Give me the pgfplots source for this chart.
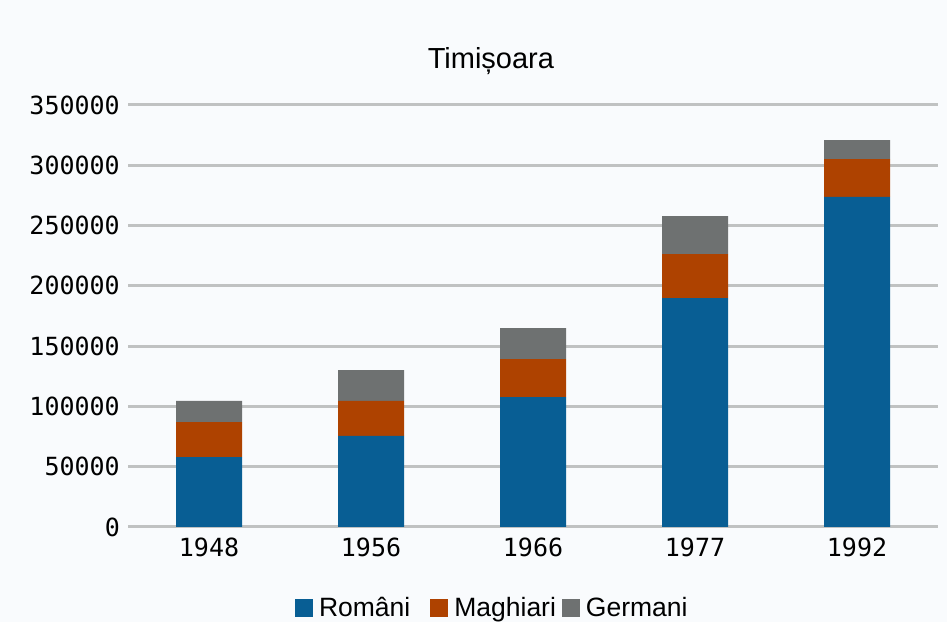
\documentclass[border=0pt]{standalone}
\usepackage{pgfplots}
\pgfplotsset{compat=1.18}
\usepackage{fontspec}
\setmainfont{Liberation Sans}
\newfontfamily\tickfont{DejaVu Sans Mono}
\definecolor{bg}{RGB}{249,251,253}
\definecolor{cro}{RGB}{8,94,148}
\definecolor{cma}{RGB}{174,66,0}
\definecolor{cge}{RGB}{110,113,113}
\definecolor{grid}{RGB}{192,194,194}
\begin{document}
\begin{tikzpicture}[x=1bp,y=1bp]
\path[fill=bg,use as bounding box] (0,0) rectangle (947,622);
\begin{axis}[
  at={(128bp,95bp)}, anchor=south west,
  scale only axis, width=810bp, height=422bp,
  ybar stacked, bar width=66bp,
  xmin=-0.5, xmax=4.5, ymin=0, ymax=350000,
  xtick=data, xticklabels={1948,1956,1966,1977,1992},
  ytick={0,50000,...,350000},
  scaled y ticks=false,
  yticklabel={\pgfmathprintnumber[fixed,1000 sep={}]{\tick}},
  /pgf/number format/assume math mode=true,
  axis line style={draw=none},
  major tick length=0pt,
  ymajorgrids, major grid style={color=grid, line width=3bp},
  tick label style={font=\tickfont\fontsize{25bp}{29bp}\selectfont, inner sep=0pt},
  yticklabel style={xshift=-8bp, anchor=east},
  xticklabel style={yshift=-11bp, anchor=north},
  title={Timișoara},
  title style={at={(0.448,1)}, anchor=center, yshift=38bp, font=\fontsize{29bp}{33bp}\selectfont},
  legend style={at={(0.206,-0.192)}, anchor=west, draw=none, fill=none, inner sep=0pt,
    legend columns=-1, font=\fontsize{26.5bp}{30bp}\selectfont,
    /tikz/every even column/.append style={column sep=4bp},
    /tikz/every odd column/.append style={column sep=4bp}},
  legend image code/.code={\fill[#1] (0bp,-9bp) rectangle (18bp,9bp);},
]
\addplot[fill=cro, draw=none] coordinates {(0,58000) (1,75500) (2,107800) (3,189800) (4,273800)};
\addplot[fill=cma, draw=none] coordinates {(0,29000) (1,29000) (2,31500) (3,36500) (4,31400)};
\addplot[fill=cge, draw=none] coordinates {(0,17500) (1,25500) (2,25700) (3,31500) (4,15600)};
\legend{Români\rule{14bp}{0pt},Maghiari,Germani}
\end{axis}
\end{tikzpicture}
\end{document}
